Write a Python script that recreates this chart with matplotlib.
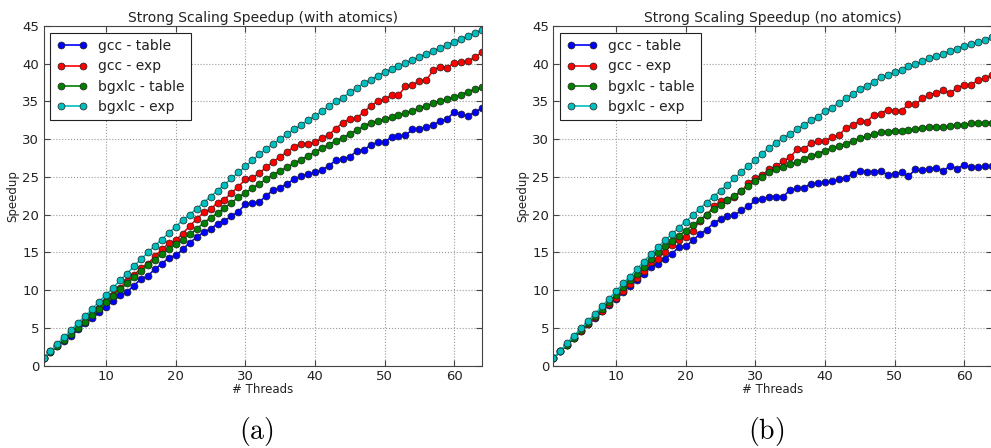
import matplotlib

matplotlib.use("Agg")
import matplotlib.pyplot as plt
import numpy as np

threads = np.arange(1, 65)

# (a) with atomics
a_gcc_table = [1.0, 1.8, 2.6, 3.3, 4.0, 4.8, 5.6, 6.3, 7.1, 7.8, 8.6, 9.3, 9.8, 10.6, 11.5, 11.9,
               12.8, 13.5, 14.3, 14.6, 15.4, 16.3, 17.0, 17.7, 18.1, 18.8, 19.2, 19.8, 20.4, 21.4, 21.5, 21.7,
               22.5, 23.3, 23.6, 24.1, 24.7, 25.1, 25.4, 25.6, 25.9, 26.5, 27.2, 27.4, 27.7, 28.4, 28.6, 29.2,
               29.6, 29.6, 30.3, 30.4, 30.5, 31.3, 31.4, 31.6, 31.9, 32.4, 32.7, 33.6, 33.3, 33.1, 33.6, 34.1]
a_gcc_exp = [1.0, 1.9, 2.8, 3.6, 4.4, 5.2, 6.0, 6.9, 7.7, 8.6, 9.4, 10.3, 11.2, 12.0, 12.9, 13.5,
             14.5, 15.4, 16.2, 16.6, 17.5, 18.5, 19.4, 20.3, 20.7, 21.6, 22.0, 22.9, 23.7, 24.7, 24.9, 25.5,
             26.3, 27.0, 27.7, 28.3, 29.0, 29.4, 29.4, 29.6, 30.1, 30.6, 31.4, 32.2, 32.7, 32.8, 33.6, 34.4,
             35.0, 35.3, 35.8, 35.8, 37.0, 37.2, 37.7, 37.8, 39.2, 39.6, 39.5, 40.1, 40.2, 40.3, 40.9, 41.5]
a_bgxlc_table = [1.0, 1.8, 2.6, 3.4, 4.2, 5.0, 5.8, 6.7, 7.5, 8.4, 9.2, 10.1, 10.9, 11.7, 12.5, 13.4,
                 14.0, 14.8, 15.4, 16.1, 16.7, 17.4, 18.1, 18.9, 19.6, 20.2, 20.9, 21.6, 22.3, 22.9, 23.5, 24.1,
                 24.7, 25.3, 25.8, 26.3, 26.8, 27.3, 27.8, 28.3, 28.8, 29.3, 29.8, 30.2, 30.7, 31.2, 31.7, 32.2,
                 32.4, 32.7, 32.9, 33.2, 33.5, 33.8, 34.1, 34.4, 34.8, 35.0, 35.3, 35.6, 35.9, 36.3, 36.6, 36.9]
a_bgxlc_exp = [1.0, 1.9, 2.9, 3.8, 4.7, 5.7, 6.6, 7.5, 8.5, 9.4, 10.3, 11.3, 12.2, 13.2, 14.1, 15.0,
               15.9, 16.7, 17.6, 18.4, 19.3, 20.0, 20.8, 21.6, 22.4, 23.2, 24.0, 24.8, 25.6, 26.4, 27.2, 28.0,
               28.7, 29.4, 30.0, 30.7, 31.3, 31.9, 32.5, 33.1, 33.7, 34.4, 35.0, 35.5, 36.2, 36.8, 37.4, 37.9,
               38.4, 38.9, 39.3, 39.7, 40.1, 40.5, 40.9, 41.3, 41.7, 42.1, 42.5, 42.9, 43.3, 43.7, 44.1, 44.5]

# (b) no atomics
b_gcc_table = [1.0, 1.9, 2.8, 3.7, 4.6, 5.5, 6.3, 7.2, 8.1, 8.9, 9.7, 10.6, 11.3, 12.2, 13.1, 13.5,
               14.2, 14.8, 15.7, 15.8, 16.6, 17.4, 18.0, 18.9, 19.4, 19.8, 19.9, 20.6, 21.1, 21.9, 22.1, 22.4,
               22.4, 22.4, 23.3, 23.5, 23.6, 24.1, 24.2, 24.3, 24.4, 24.7, 24.9, 25.4, 25.8, 25.7, 25.7, 25.8,
               25.3, 25.4, 25.6, 25.1, 26.0, 25.9, 26.1, 26.2, 25.8, 26.5, 26.1, 26.6, 26.3, 26.3, 26.4, 26.4]
b_gcc_exp = [1.0, 1.9, 2.8, 3.7, 4.6, 5.5, 6.4, 7.3, 8.2, 9.0, 9.9, 10.8, 11.6, 12.5, 13.7, 14.1,
             15.1, 16.0, 16.6, 17.1, 17.9, 19.2, 19.9, 21.1, 21.8, 22.0, 22.4, 23.1, 24.2, 24.8, 25.3, 26.0,
             26.4, 27.1, 27.6, 28.7, 28.7, 29.5, 29.7, 29.7, 30.3, 30.5, 31.5, 31.9, 32.4, 32.3, 33.2, 33.4,
             33.9, 33.8, 33.8, 34.6, 34.6, 35.4, 35.9, 36.1, 36.5, 36.1, 36.8, 37.2, 37.2, 37.8, 38.1, 38.5]
b_bgxlc_table = [1.0, 1.9, 2.8, 3.7, 4.7, 5.6, 6.6, 7.5, 8.5, 9.4, 10.4, 11.3, 12.2, 13.1, 14.1, 15.0,
                 15.8, 16.5, 17.2, 17.9, 18.6, 19.3, 20.0, 20.8, 21.3, 21.9, 22.5, 23.2, 23.8, 24.4, 25.0, 25.6,
                 26.0, 26.3, 26.7, 27.0, 27.4, 27.8, 28.1, 28.5, 28.8, 29.1, 29.4, 29.8, 30.1, 30.4, 30.7, 30.9,
                 31.0, 31.1, 31.1, 31.2, 31.3, 31.5, 31.6, 31.6, 31.6, 31.7, 31.9, 31.9, 32.1, 32.1, 32.2, 32.2]
b_bgxlc_exp = [1.0, 2.0, 3.0, 4.0, 5.0, 5.9, 6.9, 7.9, 8.9, 9.9, 10.9, 11.8, 12.8, 13.8, 14.8, 15.7,
               16.6, 17.4, 18.3, 19.1, 19.9, 20.8, 21.6, 22.4, 23.2, 24.0, 24.8, 25.7, 26.5, 27.2, 28.1, 28.9,
               29.5, 30.2, 30.7, 31.3, 31.9, 32.5, 33.0, 33.7, 34.2, 34.8, 35.4, 36.0, 36.6, 37.1, 37.6, 38.2,
               38.5, 38.9, 39.2, 39.7, 40.0, 40.3, 40.7, 41.0, 41.3, 41.7, 42.0, 42.4, 42.6, 42.9, 43.2, 43.5]

labels = ["gcc - table", "gcc - exp", "bgxlc - table", "bgxlc - exp"]
colors = ["#0000ff", "#ff0000", "#008000", "#00bfbf"]
titles = ["Strong Scaling Speedup (with atomics)", "Strong Scaling Speedup (no atomics)"]
captions = [r"$\mathrm{(a)}$", r"$\mathrm{(b)}$"]
panels = [
    [a_gcc_table, a_gcc_exp, a_bgxlc_table, a_bgxlc_exp],
    [b_gcc_table, b_gcc_exp, b_bgxlc_table, b_bgxlc_exp],
]

plt.rcParams["mathtext.fontset"] = "cm"

fig = plt.figure(figsize=(9.91, 4.48), dpi=100)
lefts = [0.0439, 0.5585]

for i, series in enumerate(panels):
    ax = fig.add_axes([lefts[i], 0.1837, 0.4425, 0.7583])
    for ys, lab, col in zip(series, labels, colors):
        ax.plot(threads, ys, "-o", color=col, label=lab, linewidth=1.2,
                markersize=5, markeredgecolor="#202020", markeredgewidth=0.5)
    ax.set_xlim(1, 64)
    ax.set_ylim(0, 45)
    ax.set_xticks([10, 20, 30, 40, 50, 60])
    ax.set_yticks(range(0, 46, 5))
    ax.grid(True, color="#999999", linestyle=":", linewidth=0.8)
    for sp in ax.spines.values():
        sp.set_color("#444444")
    ax.tick_params(direction="in", top=True, right=True, labelsize=9.5, length=4, pad=3,
                   color="#444444", labelcolor="#222222")
    ax.set_title(titles[i], fontsize=10, pad=3, color="#222222")
    ax.set_xlabel("# Threads", fontsize=8.5, labelpad=0, color="#222222")
    ax.set_ylabel("Speedup", fontsize=8.5, labelpad=2, color="#222222")
    leg = ax.legend(loc="upper left", fontsize=10, numpoints=2, fancybox=False,
                    framealpha=1, edgecolor="#222222", borderaxespad=0.5,
                    handlelength=2.2, labelspacing=0.45, borderpad=0.45)
    leg.get_frame().set_linewidth(0.8)
    for t in leg.get_texts():
        t.set_color("#222222")
    fig.text(lefts[i] + 0.2145, 0.036, captions[i], ha="center", va="center",
             fontsize=20)

fig.savefig("out.png", dpi=100, facecolor="white")
